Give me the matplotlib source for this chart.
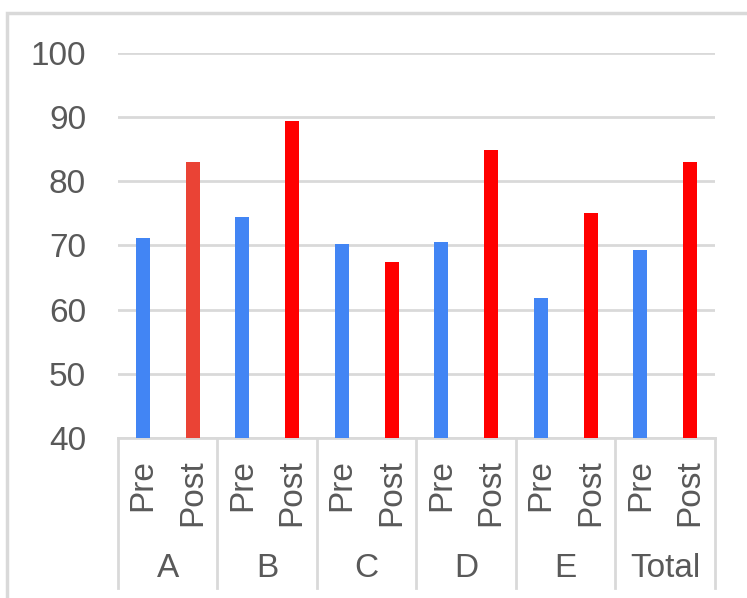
import matplotlib
matplotlib.use("Agg")
import matplotlib.pyplot as plt
from matplotlib.patches import Rectangle

groups = ["A", "B", "C", "D", "E", "Total"]
phases = ["Pre", "Post"]
pre_vals = [71.1, 74.4, 70.2, 70.5, 61.8, 69.3]
post_vals = [83.0, 89.4, 67.4, 84.9, 75.1, 83.0]

blue = "#4285F4"
red = "#FF0000"
red_first = "#EA4335"
grey_line = "#D9D9D9"
grey_text = "#595959"

plt.rcParams["font.family"] = ["Liberation Sans", "DejaVu Sans"]

W, H = 747, 598
fig = plt.figure(figsize=(W / 100, H / 100), dpi=100)

# outer chart border (runs past right/bottom edge like the screenshot)
fig.patches.append(Rectangle((7 / W, -0.1), 1.2, (H - 13) / H + 0.1,
                             transform=fig.transFigure, fill=False,
                             edgecolor=grey_line, linewidth=2.5))

ax = fig.add_axes([118 / W, (H - 438) / H, 597 / W, 385 / H])

xs = []
vals = []
colors = []
for i, g in enumerate(groups):
    xs += [2 * i, 2 * i + 1]
    vals += [pre_vals[i], post_vals[i]]
    colors += [blue, red_first if i == 0 else red]

ax.bar(xs, [v - 40 for v in vals], bottom=40, width=0.28, color=colors, zorder=3)

ax.set_xlim(-0.5, 2 * len(groups) - 0.5)
ax.set_ylim(40, 100)
ax.set_yticks(range(40, 101, 10))
ax.yaxis.grid(True, color=grey_line, linewidth=2)
ax.set_axisbelow(True)
ax.set_xticks([])
ax.tick_params(axis="y", length=0, pad=23, labelsize=24, labelcolor=grey_text)
for s in ["top", "right", "left"]:
    ax.spines[s].set_visible(False)
ax.spines["bottom"].set_color(grey_line)
ax.spines["bottom"].set_linewidth(2)

tr = ax.get_xaxis_transform()
for x in xs:
    ax.text(x, -0.055, phases[x % 2], rotation=90, ha="center", va="top",
            fontsize=24, color=grey_text, transform=tr)
for i, g in enumerate(groups):
    ax.text(2 * i + 0.5, -0.34, g, ha="center", va="center",
            fontsize=24, color=grey_text, transform=tr)
for b in range(len(groups) + 1):
    ax.plot([2 * b - 0.5, 2 * b - 0.5], [0, -0.39], color=grey_line,
            linewidth=2, transform=tr, clip_on=False)

fig.savefig("out.png", dpi=100)
